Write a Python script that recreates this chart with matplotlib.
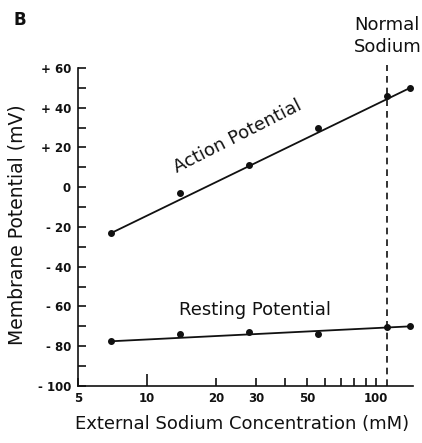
import numpy as np
import matplotlib
matplotlib.use("Agg")
import matplotlib.pyplot as plt
from matplotlib.ticker import FixedLocator, FixedFormatter, NullFormatter

plt.rcParams['font.family'] = ['DejaVu Sans']

# ===================== data =====================
conc = [7, 14, 28, 56, 112, 140]                 # mM
action_pot = [-23, -3, 11, 30, 46, 50]           # mV
resting_pot = [-77.5, -74, -73, -74, -70.5, -70]  # mV

# fitted lines (end points)
fit_x = [7, 141]
fit_action = [-23, 50]
fit_resting = [-77.5, -70]

normal_sodium = 112

xtick_vals = [5, 10, 20, 30, 50, 100]
xtick_labels = ['5', '10', '20', '30', '50', '100']
xminor_vals = [40, 60, 70, 80, 90]
ytick_vals = [-100, -80, -60, -40, -20, 0, 20, 40, 60]
ytick_labels = ['- 100', '- 80', '- 60', '- 40', '- 20', '0', '+ 20', '+ 40', '+ 60']
yminor_vals = [-90, -70, -50, -30, -10, 10, 30, 50]

INK = '#111111'

fig = plt.figure(figsize=(4.22, 4.43), dpi=100)
ax = fig.add_axes([0.1848, 0.1287, 0.794, 0.718])

ax.plot(fit_x, fit_action, color=INK, lw=1.3)
ax.plot(fit_x, fit_resting, color=INK, lw=1.3)
ax.plot(conc, action_pot, 'o', color=INK, ms=4)
ax.plot(conc, resting_pot, 'o', color=INK, ms=4)

# normal sodium dashed line
ax.plot([normal_sodium, normal_sodium], [-100, 61.5], color=INK, lw=1.2,
        ls=(0, (4, 3)), clip_on=False)

ax.set_xscale('log')
ax.set_xlim(5, 145)
ax.set_ylim(-100, 60)

ax.xaxis.set_major_locator(FixedLocator(xtick_vals))
ax.xaxis.set_major_formatter(FixedFormatter(xtick_labels))
ax.xaxis.set_minor_locator(FixedLocator(xminor_vals))
ax.xaxis.set_minor_formatter(NullFormatter())
ax.yaxis.set_major_locator(FixedLocator(ytick_vals))
ax.yaxis.set_major_formatter(FixedFormatter(ytick_labels))
ax.yaxis.set_minor_locator(FixedLocator(yminor_vals))

ax.tick_params(axis='both', which='both', direction='in', color=INK, width=1.2)
ax.tick_params(axis='x', which='both', length=5.5, pad=4.5)
ax.tick_params(axis='y', which='both', length=5.8, pad=5)
for lab in ax.get_xticklabels() + ax.get_yticklabels():
    lab.set_fontsize(8.5)
    lab.set_fontweight('bold')
    lab.set_color(INK)
# taller tick at 10
ax.xaxis.get_major_ticks()[1].tick1line.set_markersize(9)

for s in ['top', 'right']:
    ax.spines[s].set_visible(False)
for s in ['left', 'bottom']:
    ax.spines[s].set_linewidth(1.2)
    ax.spines[s].set_color(INK)

ax.set_xlabel('External Sodium Concentration (mM)', fontsize=13, color=INK)
ax.xaxis.set_label_coords(0.49, -0.09)
ax.set_ylabel('Membrane Potential (mV)', fontsize=13.5, color=INK)
ax.yaxis.set_label_coords(-0.155, 0.506)

ax.text(25, 25.4, 'Action Potential', fontsize=13, rotation=27,
        rotation_mode='anchor', ha='center', va='center', color=INK)
ax.text(29.6, -62, 'Resting Potential', fontsize=13, ha='center',
        va='center', color=INK)
ax.text(normal_sodium, 76, 'Normal\nSodium', fontsize=13, ha='center',
        va='center', linespacing=1.3, color=INK, clip_on=False)

fig.text(20 / 422, 1 - 20 / 443, 'B', fontsize=12, fontweight='bold',
         ha='center', va='center', color=INK)

fig.savefig('out.png', dpi=100, facecolor='white')
